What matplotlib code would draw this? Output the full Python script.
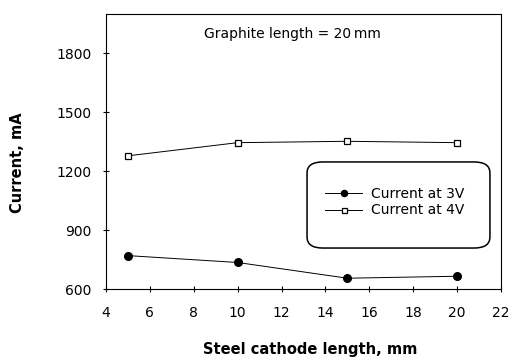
import matplotlib
matplotlib.use("Agg")
import matplotlib.pyplot as plt
from matplotlib.patches import FancyBboxPatch

plt.rcParams['font.family'] = ['DejaVu Sans']

x_len = [5, 10, 15, 20]
current_3v = [770, 735, 655, 665]
current_4v = [1278, 1345, 1352, 1345]
x_ticks = [4, 6, 8, 10, 12, 14, 16, 18, 20, 22]
y_ticks = [600, 900, 1200, 1500, 1800]

fig = plt.figure(figsize=(5.13, 3.58), dpi=100)
ax = fig.add_axes([0.2066, 0.1927, 0.77, 0.7682])

ax.plot(x_len, current_3v, color='black', lw=0.7, marker='o', ms=5.5,
        mfc='black', mec='black', label='Current at 3V')
ax.plot(x_len, current_4v, color='black', lw=0.7, marker='s', ms=4.5,
        mfc='white', mec='black', mew=0.9, label='Current at 4V')

ax.set_xlim(4, 22)
ax.set_ylim(600, 2000)
ax.set_xticks(x_ticks)
ax.set_yticks(y_ticks)
ax.tick_params(direction='inout', length=5, width=0.8, labelsize=10)
ax.tick_params(axis='y', pad=8)
ax.tick_params(axis='x', pad=9.5)
for s in ax.spines.values():
    s.set_linewidth(0.8)

ax.set_xlabel('Steel cathode length, mm', fontsize=10.5, fontweight='bold')
ax.xaxis.set_label_coords(0.5175, -0.193)
ax.set_ylabel('Current, mA', fontsize=10.5, fontweight='bold')
ax.yaxis.set_label_coords(-0.205, 0.458)

ax.text(0.471, 0.927, 'Graphite length = 20\u2009mm', transform=ax.transAxes,
        ha='center', va='center', fontsize=10)

box = FancyBboxPatch((0.509, 0.149), 0.463, 0.313, transform=ax.transAxes,
                     boxstyle='round,pad=0,rounding_size=0.04',
                     facecolor='white', edgecolor='black', lw=1.1, zorder=3)
ax.add_patch(box)

leg = ax.legend(loc='upper left', bbox_to_anchor=(0.554, 0.372),
                frameon=False, fontsize=10, handlelength=2.7,
                handletextpad=0.65, borderpad=0, borderaxespad=0,
                labelspacing=0.2, markerscale=0.8)
leg.set_zorder(4)

fig.savefig('out.png', dpi=100)
